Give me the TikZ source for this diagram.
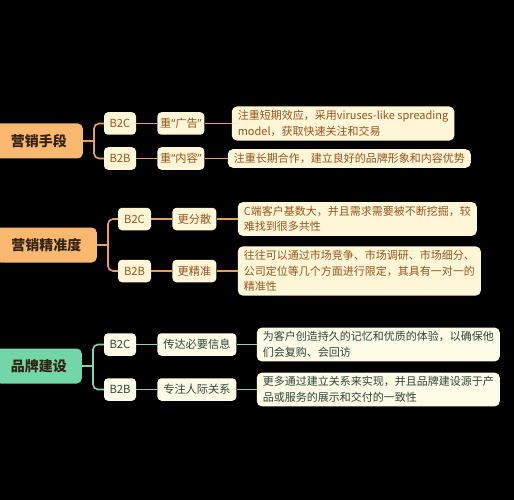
\documentclass[tikz,border=0pt]{standalone}
\usepackage{fontspec}
\setmainfont{Noto Sans CJK SC}
\newfontfamily\quotefont{Noto Sans}
\usetikzlibrary{positioning}
\definecolor{bg}{RGB}{0,0,0}
\definecolor{orgRoot}{RGB}{248,184,112}
\definecolor{orgLine}{RGB}{228,162,98}
\definecolor{orgText}{RGB}{150,84,28}
\definecolor{rootText}{RGB}{52,34,18}
\definecolor{cream}{RGB}{255,246,216}
\definecolor{grnRoot}{RGB}{114,214,168}
\definecolor{grnLine}{RGB}{136,210,176}
\definecolor{grnText}{RGB}{44,70,60}
\definecolor{creamG}{RGB}{253,251,230}
\newcommand{\oq}{{\quotefont“}}
\newcommand{\cq}{{\quotefont”}}
\tikzset{
  root/.style={rounded corners=5pt,inner sep=0pt,minimum height=35pt,
    font=\fontsize{14}{17}\selectfont\bfseries,text=rootText},
  tag/.style={rounded corners=4pt,fill=cream,inner sep=0pt,minimum height=22.5pt,
    font=\fontsize{11.2}{14}\selectfont,text=orgText},
  note/.style={rounded corners=5pt,fill=cream,inner xsep=6pt,inner ysep=4pt,
    align=left,font=\fontsize{11}{15.5}\selectfont,text=orgText},
  link/.style={line width=1.6pt,rounded corners=5pt},
}

\begin{document}
\begin{tikzpicture}[x=1pt,y=-1pt]
  \fill[bg] (0,0) rectangle (514,500);
  \useasboundingbox (0,0) rectangle (514,500);
  % 营销手段
  \node[root,fill=orgRoot,anchor=east,minimum width=88pt] (m1) at (83,141) {营销手段};
  \node[tag,minimum width=32pt] (m1c) at (120,123.5) {B2C};
  \node[tag,minimum width=32pt] (m1b) at (120,158.5) {B2B};
  \node[tag,minimum width=47pt,right=21pt of m1c] (k1c) {重\oq 广告\cq};
  \node[tag,minimum width=47pt,right=21pt of m1b] (k1b) {重\oq 内容\cq};
  \node[note,right=27pt of k1c] (d1c) {注重短期效应，采用viruses-like spreading\\model，获取快速关注和交易};
  \node[note,right=23pt of k1b] (d1b) {注重长期合作，建立良好的品牌形象和内容优势};
  \coordinate (s1) at ([xshift=11pt]m1.east);
  \draw[link,orgLine] (m1.east) -- (s1);
  \draw[link,orgLine] (s1) |- (m1c.west);
  \draw[link,orgLine] (s1) |- (m1b.west);
  \draw[link,orgLine] (m1c) -- (k1c);
  \draw[link,orgLine] (m1b) -- (k1b);
  \draw[link,orgLine] (k1c) -- (d1c);
  \draw[link,orgLine] (k1b) -- (d1b);
  % 营销精准度
  \node[root,fill=orgRoot,anchor=east,minimum width=101pt] (m2) at (97,245) {营销精准度};
  \node[tag,minimum width=33pt] (m2c) at (134.5,219) {B2C};
  \node[tag,minimum width=33pt] (m2b) at (134.5,271) {B2B};
  \node[tag,minimum width=44pt,right=21pt of m2c] (k2c) {更分散};
  \node[tag,minimum width=44pt,right=21pt of m2b] (k2b) {更精准};
  \node[note,right=21pt of k2c] (d2c) {C端客户基数大，并且需求需要被不断挖掘，较\\难找到很多共性};
  \node[note,right=21pt of k2b] (d2b) {往往可以通过市场竞争、市场调研、市场细分、\\公司定位等几个方面进行限定，其具有一对一的\\精准性};
  \coordinate (s2) at ([xshift=11pt]m2.east);
  \draw[link,orgLine] (m2.east) -- (s2);
  \draw[link,orgLine] (s2) |- (m2c.west);
  \draw[link,orgLine] (s2) |- (m2b.west);
  \draw[link,orgLine] (m2c) -- (k2c);
  \draw[link,orgLine] (m2b) -- (k2b);
  \draw[link,orgLine] (k2c) -- (d2c);
  \draw[link,orgLine] (k2b) -- (d2b);
  % 品牌建设
  \node[root,fill=grnRoot,anchor=east,minimum width=86pt] (m3) at (82,366) {品牌建设};
  \node[tag,fill=creamG,text=grnText,minimum width=32pt] (m3c) at (120,344.5) {B2C};
  \node[tag,fill=creamG,text=grnText,minimum width=32pt] (m3b) at (120,389.5) {B2B};
  \node[tag,fill=creamG,text=grnText,minimum width=79pt,right=21pt of m3c] (k3c) {传达必要信息};
  \node[tag,fill=creamG,text=grnText,minimum width=79pt,right=21pt of m3b] (k3b) {专注人际关系};
  \node[note,fill=creamG,text=grnText,right=20pt of k3c] (d3c) {为客户创造持久的记忆和优质的体验，以确保他\\们会复购、会回访};
  \node[note,fill=creamG,text=grnText,right=20pt of k3b] (d3b) {更多通过建立关系来实现，并且品牌建设源于产\\品或服务的展示和交付的一致性};
  \coordinate (s3) at ([xshift=11pt]m3.east);
  \draw[link,grnLine] (m3.east) -- (s3);
  \draw[link,grnLine] (s3) |- (m3c.west);
  \draw[link,grnLine] (s3) |- (m3b.west);
  \draw[link,grnLine] (m3c) -- (k3c);
  \draw[link,grnLine] (m3b) -- (k3b);
  \draw[link,grnLine] (k3c) -- (d3c);
  \draw[link,grnLine] (k3b) -- (d3b);
\end{tikzpicture}
\end{document}
